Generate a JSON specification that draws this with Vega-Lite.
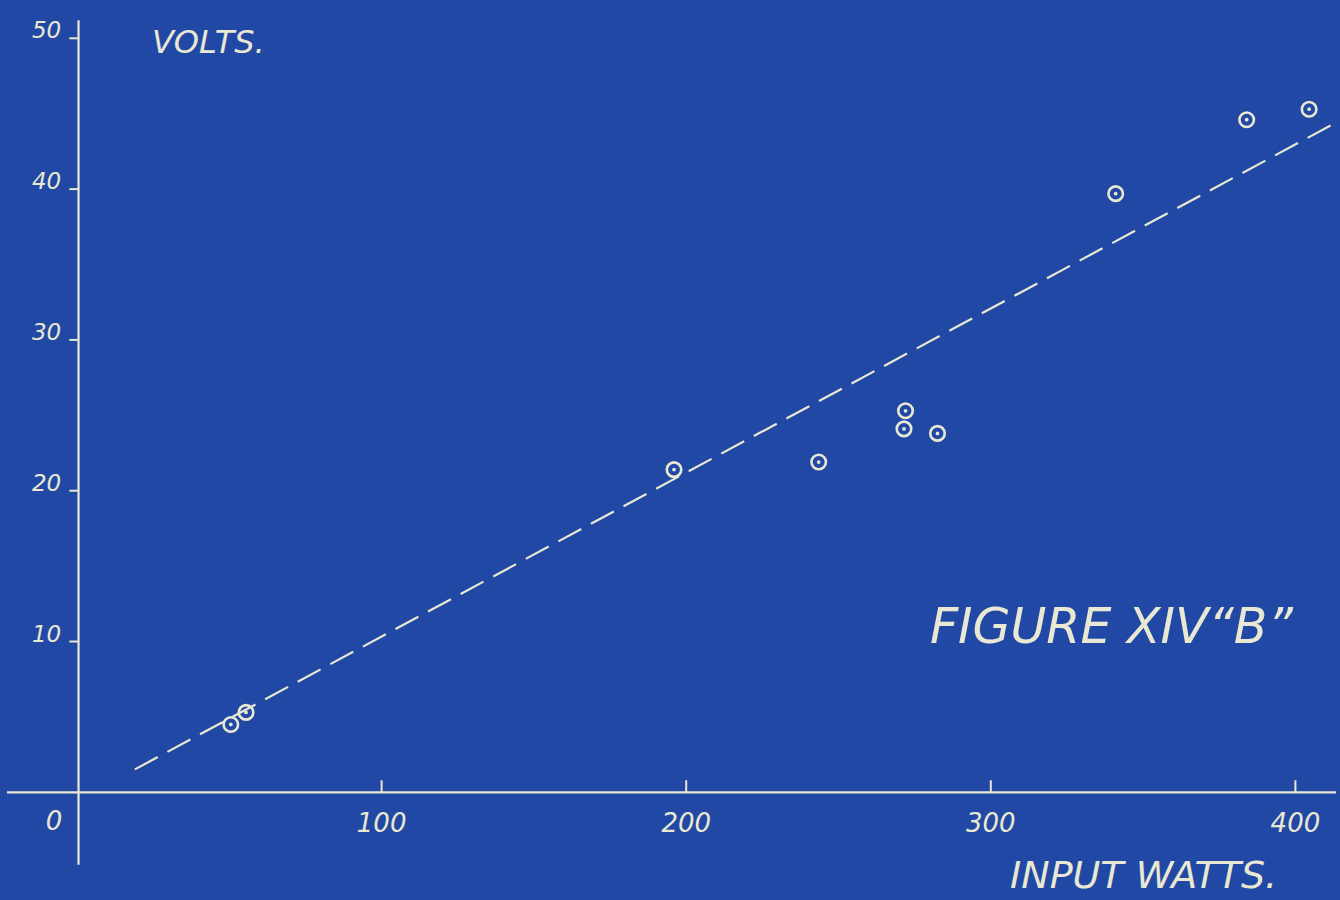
{
  "$schema": "https://vega.github.io/schema/vega-lite/v6.json",
  "width": 1340,
  "height": 900,
  "autosize": {"type": "fit", "contains": "padding"},
  "padding": 0,
  "background": "#2248a6",
  "data": {"values": [{}]},
  "config": {
    "view": {"stroke": null},
    "text": {"font": "DejaVu Sans", "fontStyle": "italic", "fontWeight": 400, "color": "#e9e8d2"},
    "rule": {"color": "#e9e8d2"},
    "line": {"color": "#e9e8d2"},
    "point": {"color": "#e9e8d2"}
  },
  "datasets": {
    "readings": [
      {"watts": 50.5, "volts": 4.5},
      {"watts": 55.5, "volts": 5.3},
      {"watts": 196, "volts": 21.4},
      {"watts": 243.5, "volts": 21.9},
      {"watts": 272, "volts": 25.3},
      {"watts": 271.5, "volts": 24.1},
      {"watts": 282.5, "volts": 23.8},
      {"watts": 341, "volts": 39.7},
      {"watts": 384, "volts": 44.6},
      {"watts": 404.5, "volts": 45.3}
    ],
    "trend": [
      {"watts": 19, "volts": 1.52},
      {"watts": 414.6, "volts": 44.55}
    ],
    "xticks": [{"watts": 100}, {"watts": 200}, {"watts": 300}, {"watts": 400}],
    "yticks": [{"volts": 10}, {"volts": 20}, {"volts": 30}, {"volts": 40}, {"volts": 50}]
  },
  "layer": [
    {
      "mark": {"type": "rule", "strokeWidth": 2.4},
      "encoding": {
        "x": {"datum": -23, "type": "quantitative", "scale": {"domain": [-25.28, 414.64], "nice": false, "zero": false}, "axis": null},
        "x2": {"datum": 413.3},
        "y": {"datum": 0, "type": "quantitative", "scale": {"domain": [-7.14, 52.54], "nice": false, "zero": false}, "axis": null}
      }
    },
    {
      "mark": {"type": "rule", "strokeWidth": 2.2},
      "encoding": {
        "x": {"datum": 0.5, "type": "quantitative", "scale": {"domain": [-25.28, 414.64], "nice": false, "zero": false}, "axis": null},
        "y": {"datum": -4.8, "type": "quantitative", "scale": {"domain": [-7.14, 52.54], "nice": false, "zero": false}, "axis": null},
        "y2": {"datum": 51.2}
      }
    },
    {
      "data": {"name": "xticks"},
      "mark": {"type": "rule", "strokeWidth": 2},
      "encoding": {
        "x": {"field": "watts", "type": "quantitative", "scale": {"domain": [-25.28, 414.64], "nice": false, "zero": false}, "axis": null},
        "y": {"datum": 0, "type": "quantitative", "scale": {"domain": [-7.14, 52.54], "nice": false, "zero": false}, "axis": null},
        "y2": {"datum": 0.8}
      }
    },
    {
      "data": {"name": "yticks"},
      "mark": {"type": "rule", "strokeWidth": 2},
      "encoding": {
        "x": {"datum": -2.5, "type": "quantitative", "scale": {"domain": [-25.28, 414.64], "nice": false, "zero": false}, "axis": null},
        "x2": {"datum": 0.5},
        "y": {"field": "volts", "type": "quantitative", "scale": {"domain": [-7.14, 52.54], "nice": false, "zero": false}, "axis": null}
      }
    },
    {
      "data": {"name": "xticks"},
      "mark": {"type": "text", "fontSize": 26, "align": "center", "baseline": "alphabetic"},
      "encoding": {
        "x": {"field": "watts", "type": "quantitative", "scale": {"domain": [-25.28, 414.64], "nice": false, "zero": false}, "axis": null},
        "y": {"datum": -2.63, "type": "quantitative", "scale": {"domain": [-7.14, 52.54], "nice": false, "zero": false}, "axis": null},
        "text": {"field": "watts", "type": "quantitative", "format": "d"}
      }
    },
    {
      "mark": {"type": "text", "fontSize": 26, "align": "center", "baseline": "alphabetic", "text": "0"},
      "encoding": {
        "x": {"datum": -7.55, "type": "quantitative", "scale": {"domain": [-25.28, 414.64], "nice": false, "zero": false}, "axis": null},
        "y": {"datum": -2.5, "type": "quantitative", "scale": {"domain": [-7.14, 52.54], "nice": false, "zero": false}, "axis": null}
      }
    },
    {
      "data": {"name": "yticks"},
      "mark": {"type": "text", "fontSize": 23, "align": "right", "baseline": "alphabetic"},
      "encoding": {
        "x": {"datum": -5.2, "type": "quantitative", "scale": {"domain": [-25.28, 414.64], "nice": false, "zero": false}, "axis": null},
        "y": {"field": "volts", "type": "quantitative", "scale": {"domain": [-7.14, 52.54], "nice": false, "zero": false}, "axis": null},
        "text": {"field": "volts", "type": "quantitative", "format": "d"}
      }
    },
    {
      "data": {"name": "trend"},
      "mark": {"type": "line", "strokeWidth": 2.2, "strokeDash": [26, 11], "strokeCap": "butt", "clip": true},
      "encoding": {
        "x": {"field": "watts", "type": "quantitative", "scale": {"domain": [-25.28, 414.64], "nice": false, "zero": false}, "axis": null},
        "y": {"field": "volts", "type": "quantitative", "scale": {"domain": [-7.14, 52.54], "nice": false, "zero": false}, "axis": null}
      }
    },
    {
      "data": {"name": "readings"},
      "mark": {"type": "point", "shape": "circle", "filled": false, "size": 210, "strokeWidth": 2.6, "opacity": 1},
      "encoding": {
        "x": {"field": "watts", "type": "quantitative", "scale": {"domain": [-25.28, 414.64], "nice": false, "zero": false}, "axis": null},
        "y": {"field": "volts", "type": "quantitative", "scale": {"domain": [-7.14, 52.54], "nice": false, "zero": false}, "axis": null}
      }
    },
    {
      "data": {"name": "readings"},
      "mark": {"type": "point", "shape": "circle", "filled": true, "size": 14, "opacity": 1},
      "encoding": {
        "x": {"field": "watts", "type": "quantitative", "scale": {"domain": [-25.28, 414.64], "nice": false, "zero": false}, "axis": null},
        "y": {"field": "volts", "type": "quantitative", "scale": {"domain": [-7.14, 52.54], "nice": false, "zero": false}, "axis": null}
      }
    },
    {
      "mark": {"type": "text", "fontSize": 32, "align": "left", "baseline": "alphabetic", "text": "VOLTS."},
      "encoding": {
        "x": {"datum": 24.6, "type": "quantitative", "scale": {"domain": [-25.28, 414.64], "nice": false, "zero": false}, "axis": null},
        "y": {"datum": 49.0, "type": "quantitative", "scale": {"domain": [-7.14, 52.54], "nice": false, "zero": false}, "axis": null}
      }
    },
    {
      "mark": {"type": "text", "fontSize": 38, "align": "left", "baseline": "alphabetic", "text": "INPUT WATTS."},
      "encoding": {
        "x": {"datum": 306.3, "type": "quantitative", "scale": {"domain": [-25.28, 414.64], "nice": false, "zero": false}, "axis": null},
        "y": {"datum": -6.37, "type": "quantitative", "scale": {"domain": [-7.14, 52.54], "nice": false, "zero": false}, "axis": null}
      }
    },
    {
      "mark": {"type": "text", "fontSize": 49, "align": "left", "baseline": "alphabetic", "text": "FIGURE XIV“B”"},
      "encoding": {
        "x": {"datum": 280, "type": "quantitative", "scale": {"domain": [-25.28, 414.64], "nice": false, "zero": false}, "axis": null},
        "y": {"datum": 9.88, "type": "quantitative", "scale": {"domain": [-7.14, 52.54], "nice": false, "zero": false}, "axis": null}
      }
    }
  ]
}
